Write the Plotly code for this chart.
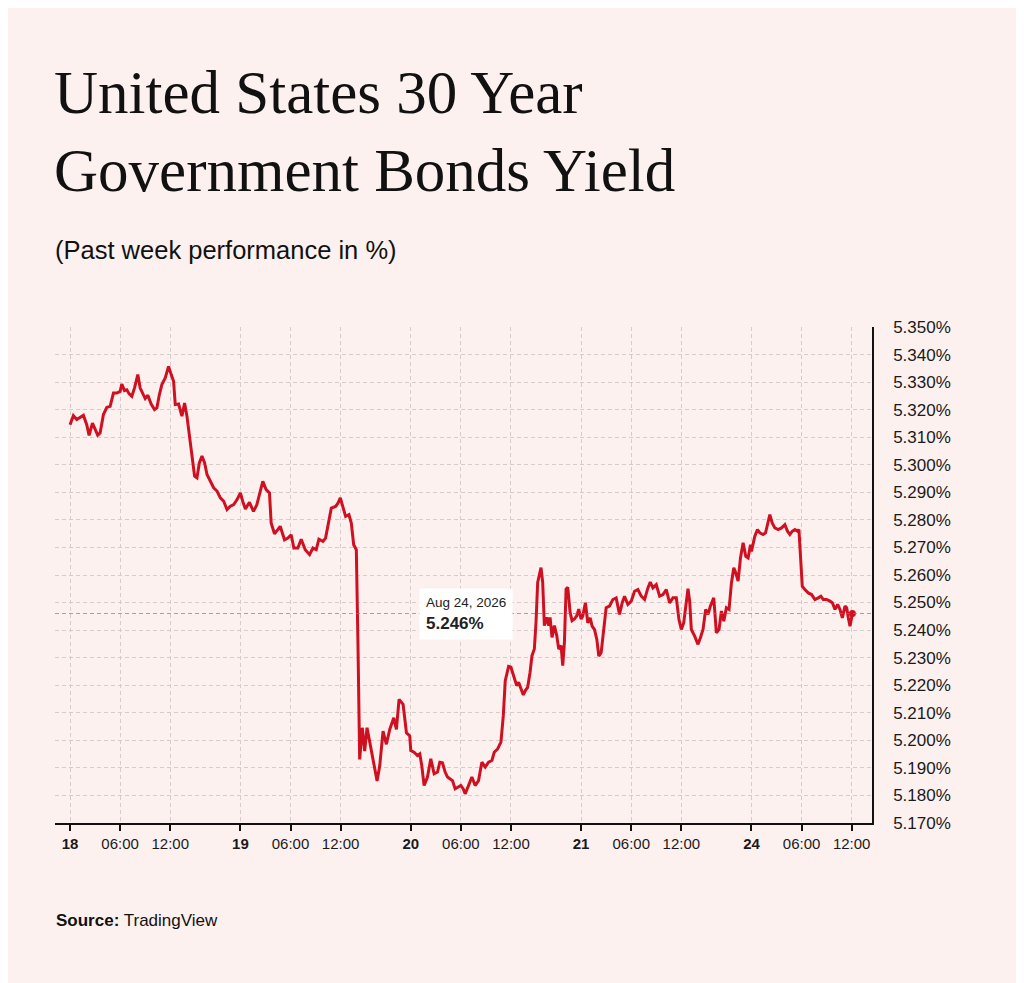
import pandas as pd
import plotly.graph_objects as go

# yield readings per trading day, (time, yield %)
DAY_18 = [("00:00", 5.3146), ("00:24", 5.3179), ("00:48", 5.3165), ("01:12", 5.3171), ("01:36", 5.3180),
          ("02:00", 5.3146), ("02:17", 5.3107), ("02:41", 5.3152), ("03:00", 5.3132), ("03:19", 5.3108),
          ("03:36", 5.3116), ("04:00", 5.3183), ("04:24", 5.3209), ("04:48", 5.3213), ("05:12", 5.3261),
          ("05:36", 5.3261), ("06:00", 5.3267), ("06:12", 5.3294), ("06:31", 5.3270), ("06:48", 5.3273),
          ("07:05", 5.3258), ("07:24", 5.3249), ("07:43", 5.3279), ("08:07", 5.3328), ("08:24", 5.3279),
          ("08:41", 5.3261), ("09:00", 5.3241), ("09:19", 5.3253), ("09:43", 5.3221), ("10:07", 5.3201),
          ("10:24", 5.3207), ("10:41", 5.3253), ("11:00", 5.3292), ("11:24", 5.3316), ("11:48", 5.3358),
          ("12:07", 5.3328), ("12:24", 5.3304), ("12:36", 5.3219), ("13:00", 5.3221), ("13:24", 5.3177),
          ("13:43", 5.3225), ("14:00", 5.3177), ("14:17", 5.3110), ("14:36", 5.3038), ("14:55", 5.2959),
          ("15:12", 5.2953), ("15:29", 5.3007), ("15:48", 5.3032), ("16:07", 5.3007), ("16:24", 5.2965),
          ("16:48", 5.2943), ("17:12", 5.2917), ("17:36", 5.2905), ("18:00", 5.2880), ("18:24", 5.2868),
          ("18:48", 5.2838), ("19:12", 5.2850), ("19:36", 5.2856), ("20:00", 5.2874)]

DAY_19 = [("00:00", 5.2898), ("00:17", 5.2867), ("00:36", 5.2840), ("01:05", 5.2864), ("01:34", 5.2831),
          ("01:58", 5.2855), ("02:22", 5.2898), ("02:41", 5.2940), ("03:05", 5.2910), ("03:29", 5.2898),
          ("03:41", 5.2789), ("04:05", 5.2750), ("04:29", 5.2765), ("04:46", 5.2777), ("05:17", 5.2728),
          ("05:41", 5.2734), ("06:05", 5.2746), ("06:24", 5.2698), ("06:53", 5.2698), ("07:17", 5.2730),
          ("07:46", 5.2692), ("08:17", 5.2674), ("08:41", 5.2698), ("09:05", 5.2692), ("09:24", 5.2730),
          ("09:53", 5.2722), ("10:12", 5.2734), ("10:36", 5.2801), ("10:53", 5.2843), ("11:24", 5.2849),
          ("11:41", 5.2861), ("11:58", 5.2880), ("12:17", 5.2849), ("12:36", 5.2813), ("13:00", 5.2819),
          ("13:17", 5.2789), ("13:34", 5.2710), ("13:53", 5.2692), ("14:05", 5.2341), ("14:17", 5.1930),
          ("14:36", 5.2045), ("14:53", 5.1960), ("15:10", 5.2045), ("15:29", 5.1990), ("15:48", 5.1942),
          ("16:05", 5.1900), ("16:22", 5.1852), ("16:41", 5.1906), ("17:05", 5.2033), ("17:29", 5.1985),
          ("17:53", 5.2039), ("18:22", 5.2081), ("18:41", 5.2039), ("19:00", 5.2148), ("19:29", 5.2130),
          ("19:53", 5.2027), ("20:17", 5.2015)]

DAY_20 = [("00:00", 5.1962), ("00:24", 5.1956), ("00:48", 5.1944), ("01:05", 5.1950), ("01:19", 5.1908),
          ("01:36", 5.1835), ("02:00", 5.1866), ("02:24", 5.1932), ("02:48", 5.1878), ("03:12", 5.1884),
          ("03:29", 5.1920), ("03:48", 5.1918), ("04:07", 5.1884), ("04:24", 5.1866), ("04:41", 5.1860),
          ("05:00", 5.1853), ("05:19", 5.1823), ("05:43", 5.1829), ("06:00", 5.1835), ("06:17", 5.1823),
          ("06:31", 5.1805), ("06:55", 5.1835), ("07:19", 5.1866), ("07:43", 5.1835), ("08:07", 5.1853),
          ("08:31", 5.1920), ("08:55", 5.1902), ("09:19", 5.1920), ("09:43", 5.1926), ("10:00", 5.1956),
          ("10:24", 5.1968), ("10:48", 5.1993), ("11:05", 5.2089), ("11:19", 5.2216), ("11:43", 5.2268),
          ("12:00", 5.2265), ("12:24", 5.2222), ("12:41", 5.2198), ("12:55", 5.2210), ("13:12", 5.2186),
          ("13:29", 5.2164), ("13:43", 5.2180), ("14:00", 5.2192), ("14:17", 5.2246), ("14:31", 5.2307),
          ("14:48", 5.2331), ("15:00", 5.2428), ("15:12", 5.2573), ("15:24", 5.2597), ("15:36", 5.2627),
          ("15:48", 5.2573), ("16:00", 5.2416), ("16:17", 5.2446), ("16:31", 5.2416), ("16:41", 5.2446),
          ("16:55", 5.2373), ("17:12", 5.2416), ("17:29", 5.2380), ("17:43", 5.2331), ("18:00", 5.2343),
          ("18:12", 5.2271), ("18:24", 5.2355), ("18:36", 5.2549), ("18:48", 5.2555), ("19:05", 5.2464),
          ("19:19", 5.2434), ("19:36", 5.2440), ("19:53", 5.2452), ("20:07", 5.2476)]

DAY_21 = [("00:00", 5.2440), ("00:12", 5.2451), ("00:31", 5.2499), ("00:48", 5.2426), ("01:05", 5.2444),
          ("01:19", 5.2414), ("01:36", 5.2402), ("01:53", 5.2366), ("02:07", 5.2305), ("02:24", 5.2318),
          ("02:41", 5.2390), ("03:00", 5.2481), ("03:24", 5.2487), ("03:48", 5.2511), ("04:12", 5.2517),
          ("04:36", 5.2457), ("04:55", 5.2499), ("05:12", 5.2523), ("05:36", 5.2493), ("06:00", 5.2505),
          ("06:24", 5.2541), ("06:48", 5.2547), ("07:12", 5.2523), ("07:36", 5.2511), ("08:00", 5.2553),
          ("08:17", 5.2574), ("08:36", 5.2553), ("09:00", 5.2565), ("09:24", 5.2523), ("09:48", 5.2529),
          ("10:12", 5.2547), ("10:36", 5.2499), ("11:00", 5.2517), ("11:24", 5.2517), ("11:43", 5.2438),
          ("12:00", 5.2402), ("12:17", 5.2426), ("12:36", 5.2511), ("12:48", 5.2550), ("13:00", 5.2505),
          ("13:12", 5.2402), ("13:36", 5.2378), ("14:00", 5.2348), ("14:17", 5.2372), ("14:36", 5.2402),
          ("14:55", 5.2475), ("15:12", 5.2457), ("15:29", 5.2487), ("15:53", 5.2517), ("16:12", 5.2390),
          ("16:31", 5.2402), ("16:48", 5.2469), ("17:05", 5.2432), ("17:24", 5.2481), ("17:43", 5.2475),
          ("18:00", 5.2571), ("18:17", 5.2626), ("18:31", 5.2608), ("18:48", 5.2578), ("19:05", 5.2662),
          ("19:24", 5.2717), ("19:43", 5.2668), ("20:00", 5.2662), ("20:17", 5.2710)]

DAY_24 = [("00:00", 5.2686), ("00:24", 5.2741), ("00:43", 5.2765), ("01:00", 5.2753), ("01:24", 5.2747),
          ("01:41", 5.2753), ("02:00", 5.2801), ("02:12", 5.2819), ("02:29", 5.2789), ("02:48", 5.2771),
          ("03:12", 5.2765), ("03:36", 5.2771), ("04:00", 5.2783), ("04:19", 5.2759), ("04:36", 5.2747),
          ("04:53", 5.2759), ("05:12", 5.2765), ("05:31", 5.2759), ("05:41", 5.2765), ("05:55", 5.2632),
          ("06:05", 5.2559), ("06:24", 5.2547), ("06:48", 5.2535), ("07:12", 5.2529), ("07:36", 5.2511),
          ("08:00", 5.2517), ("08:19", 5.2523), ("08:36", 5.2511), ("09:00", 5.2511), ("09:24", 5.2505),
          ("09:41", 5.2499), ("10:00", 5.2475), ("10:19", 5.2493), ("10:36", 5.2475), ("10:53", 5.2444),
          ("11:12", 5.2487), ("11:24", 5.2481), ("11:36", 5.2444), ("11:48", 5.2414), ("12:05", 5.2460)]

DAYS = {"2026-08-18": DAY_18, "2026-08-19": DAY_19, "2026-08-20": DAY_20,
        "2026-08-21": DAY_21, "2026-08-24": DAY_24}

TICK_DAYS = ["2026-08-18", "2026-08-19", "2026-08-20", "2026-08-21", "2026-08-24"]
TICK_HOURS = ["00:00", "06:00", "12:00"]

RED = "#cf1020"
BG = "#fdf1f0"
GRID = "#d6cccc"
SANS = "Liberation Sans, Arial, sans-serif"
SERIF = "Liberation Serif, Times New Roman, serif"

rows = []
for day, pts in DAYS.items():
    for t, v in pts:
        rows.append((pd.Timestamp(f"{day} {t}"), v))
df = pd.DataFrame(rows, columns=["time", "yield"])

tickvals, ticktext = [], []
for d in TICK_DAYS:
    for h in TICK_HOURS:
        tickvals.append(pd.Timestamp(f"{d} {h}"))
        ticktext.append(f"<b>{int(d[-2:])}</b>" if h == "00:00" else h)

last = df.iloc[-1]

fig = go.Figure()
fig.add_trace(go.Scatter(
    x=df["time"], y=df["yield"], mode="lines",
    line=dict(color=RED, width=3), hoverinfo="skip",
))
fig.add_trace(go.Scatter(
    x=[last["time"]], y=[last["yield"]], mode="markers",
    marker=dict(color=RED, size=7), hoverinfo="skip",
))

# crosshair at the latest value
fig.add_hline(y=last["yield"], line_dash="4px,3px", line_width=1,
              line_color="rgba(222,80,100,0.7)")

# page body adds an 8px offset, so margins are pulled in by 8px
fig.update_layout(
    width=1024, height=983,
    paper_bgcolor=BG, plot_bgcolor=BG,
    margin=dict(l=47, r=160, t=319, b=168),
    showlegend=False,
    font=dict(family=SANS, color="#1a1a1a"),
)

fig.update_xaxes(
    type="date",
    range=[pd.Timestamp("2026-08-17 18:36"), pd.Timestamp("2026-08-24 14:26")],
    rangebreaks=[dict(bounds=["sat", "mon"]), dict(bounds=[20.4, 24], pattern="hour")],
    tickvals=tickvals, ticktext=ticktext,
    tickfont=dict(size=15, color="#1a1a1a"),
    showline=True, linecolor="#111", linewidth=1.5,
    ticks="outside", ticklen=6, tickcolor="#111", tickwidth=1.5,
    showgrid=True, gridcolor=GRID, griddash="4px,3px", gridwidth=1,
    zeroline=False,
)

fig.update_yaxes(
    side="right",
    range=[5.1699, 5.3501],
    dtick=0.01, tick0=5.17,
    tickformat=".3f", ticksuffix="%",
    tickfont=dict(size=17, color="#1a1a1a"),
    ticklabelstandoff=16,
    showline=True, linecolor="#111", linewidth=1.5,
    ticks="",
    showgrid=True, gridcolor=GRID, griddash="4px,3px", gridwidth=1,
    zeroline=False,
)

fig.add_annotation(text="United States 30 Year", xref="paper", yref="paper",
                   x=-0.004, y=1.472, xanchor="left", yanchor="middle", showarrow=False,
                   font=dict(family=SERIF, size=61, color="#111"))
fig.add_annotation(text="Government Bonds Yield", xref="paper", yref="paper",
                   x=-0.004, y=1.315, xanchor="left", yanchor="middle", showarrow=False,
                   font=dict(family=SERIF, size=61, color="#111"))
fig.add_annotation(text="(Past week performance in %)", xref="paper", yref="paper",
                   x=-0.002, y=1.155, xanchor="left", yanchor="middle", showarrow=False,
                   font=dict(family=SANS, size=25.5, color="#111"))
fig.add_annotation(text="<b>Source:</b> TradingView", xref="paper", yref="paper",
                   x=-0.001, y=-0.196, xanchor="left", yanchor="middle", showarrow=False,
                   font=dict(family=SANS, size=17, color="#111"))

# tooltip box
fig.add_annotation(
    text=(f"<span style='font-size:13.5px'>Aug 24, 2026</span><br>"
          f"<b>{last['yield']:.3f}%</b>"),
    xref="paper", yref="y", x=0.5606, y=last["yield"],
    xanchor="right", yanchor="middle", align="left", showarrow=False,
    bgcolor="white", borderpad=6,
    font=dict(family=SANS, size=17, color="#222"),
)

fig.write_html("out.html")
